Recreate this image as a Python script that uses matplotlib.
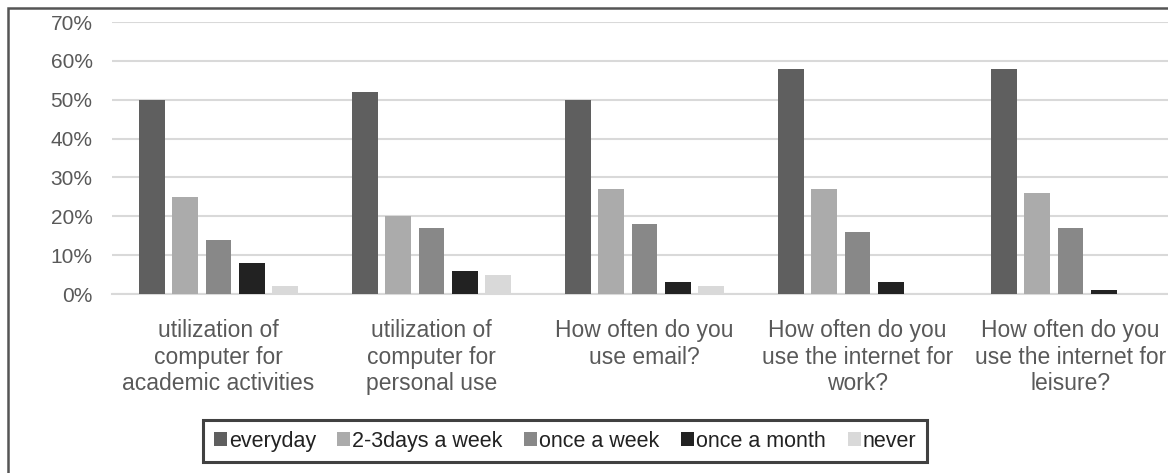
import matplotlib
matplotlib.use("Agg")
import matplotlib.pyplot as plt
from matplotlib.patches import Rectangle
import numpy as np

plt.rcParams['font.family'] = ['Liberation Sans', 'DejaVu Sans']

categories = [
    "utilization of\ncomputer for\nacademic activities",
    "utilization of\ncomputer for\npersonal use",
    "How often do you\nuse email?",
    "How often do you\nuse the internet for\nwork?",
    "How often do you\nuse the internet for\nleisure?",
]
series_names = ["everyday", "2-3days a week", "once a week", "once a month", "never"]
everyday = [50, 52, 50, 58, 58]
days_2_3 = [25, 20, 27, 27, 26]
once_week = [14, 17, 18, 16, 17]
once_month = [8, 6, 3, 3, 1]
never = [2, 5, 2, 0, 0.3]
series_values = [everyday, days_2_3, once_week, once_month, never]
colors = ["#5f5f5f", "#ababab", "#888888", "#222222", "#d9d9d9"]
yticks = [0, 10, 20, 30, 40, 50, 60, 70]
ytick_labels = ["0%", "10%", "20%", "30%", "40%", "50%", "60%", "70%"]

W, H = 1168, 473
fig = plt.figure(figsize=(W / 100, H / 100), dpi=100)
fig.patch.set_facecolor("white")

ax_left, ax_right = 112, 1177
ax_bottom, ax_top = 294, 22
ax = fig.add_axes([ax_left / W, (H - ax_bottom) / H,
                   (ax_right - ax_left) / W, (ax_bottom - ax_top) / H])

x = np.arange(len(categories))
bar_w = 0.122
step = 0.155
n = len(series_values)
for k, (vals, col, name) in enumerate(zip(series_values, colors, series_names)):
    offs = (k - (n - 1) / 2) * step
    ax.bar(x + offs, vals, width=bar_w, color=col, label=name, zorder=3)

ax.set_xlim(-0.5, len(categories) - 0.5)
ax.set_ylim(0, 70)
ax.set_yticks(yticks)
ax.set_yticklabels(ytick_labels)
ax.set_xticks(x)
ax.set_xticklabels(categories, linespacing=1.2)
ax.tick_params(axis='y', length=0, pad=14, labelsize=15, labelcolor="#595959")
ax.tick_params(axis='x', length=0, pad=18, labelsize=16.5, labelcolor="#595959")
ax.yaxis.grid(True, color="#d9d9d9", linewidth=1.5, zorder=0)
ax.set_axisbelow(True)
for s in ["top", "right", "left"]:
    ax.spines[s].set_visible(False)
ax.spines["bottom"].set_color("#d9d9d9")
ax.spines["bottom"].set_linewidth(1.5)

handles, labels = ax.get_legend_handles_labels()
leg = fig.legend(handles, labels, loc="center", ncol=5,
                 bbox_to_anchor=(565 / W, (H - 441) / H),
                 frameon=True, fancybox=False, fontsize=15.5,
                 handlelength=0.6, handleheight=0.6, handletextpad=0.1,
                 columnspacing=1.0, borderpad=0.5, borderaxespad=0)
leg.get_frame().set_edgecolor("#111111")
leg.get_frame().set_linewidth(2.2)
for t in leg.get_texts():
    t.set_color("#222222")

fig.add_artist(Rectangle((8 / W, -0.1), 1.2, (H - 8) / H + 0.1,
                         transform=fig.transFigure, fill=False,
                         edgecolor="#555555", linewidth=1.8))

fig.savefig("out.png", dpi=100, facecolor="white")
